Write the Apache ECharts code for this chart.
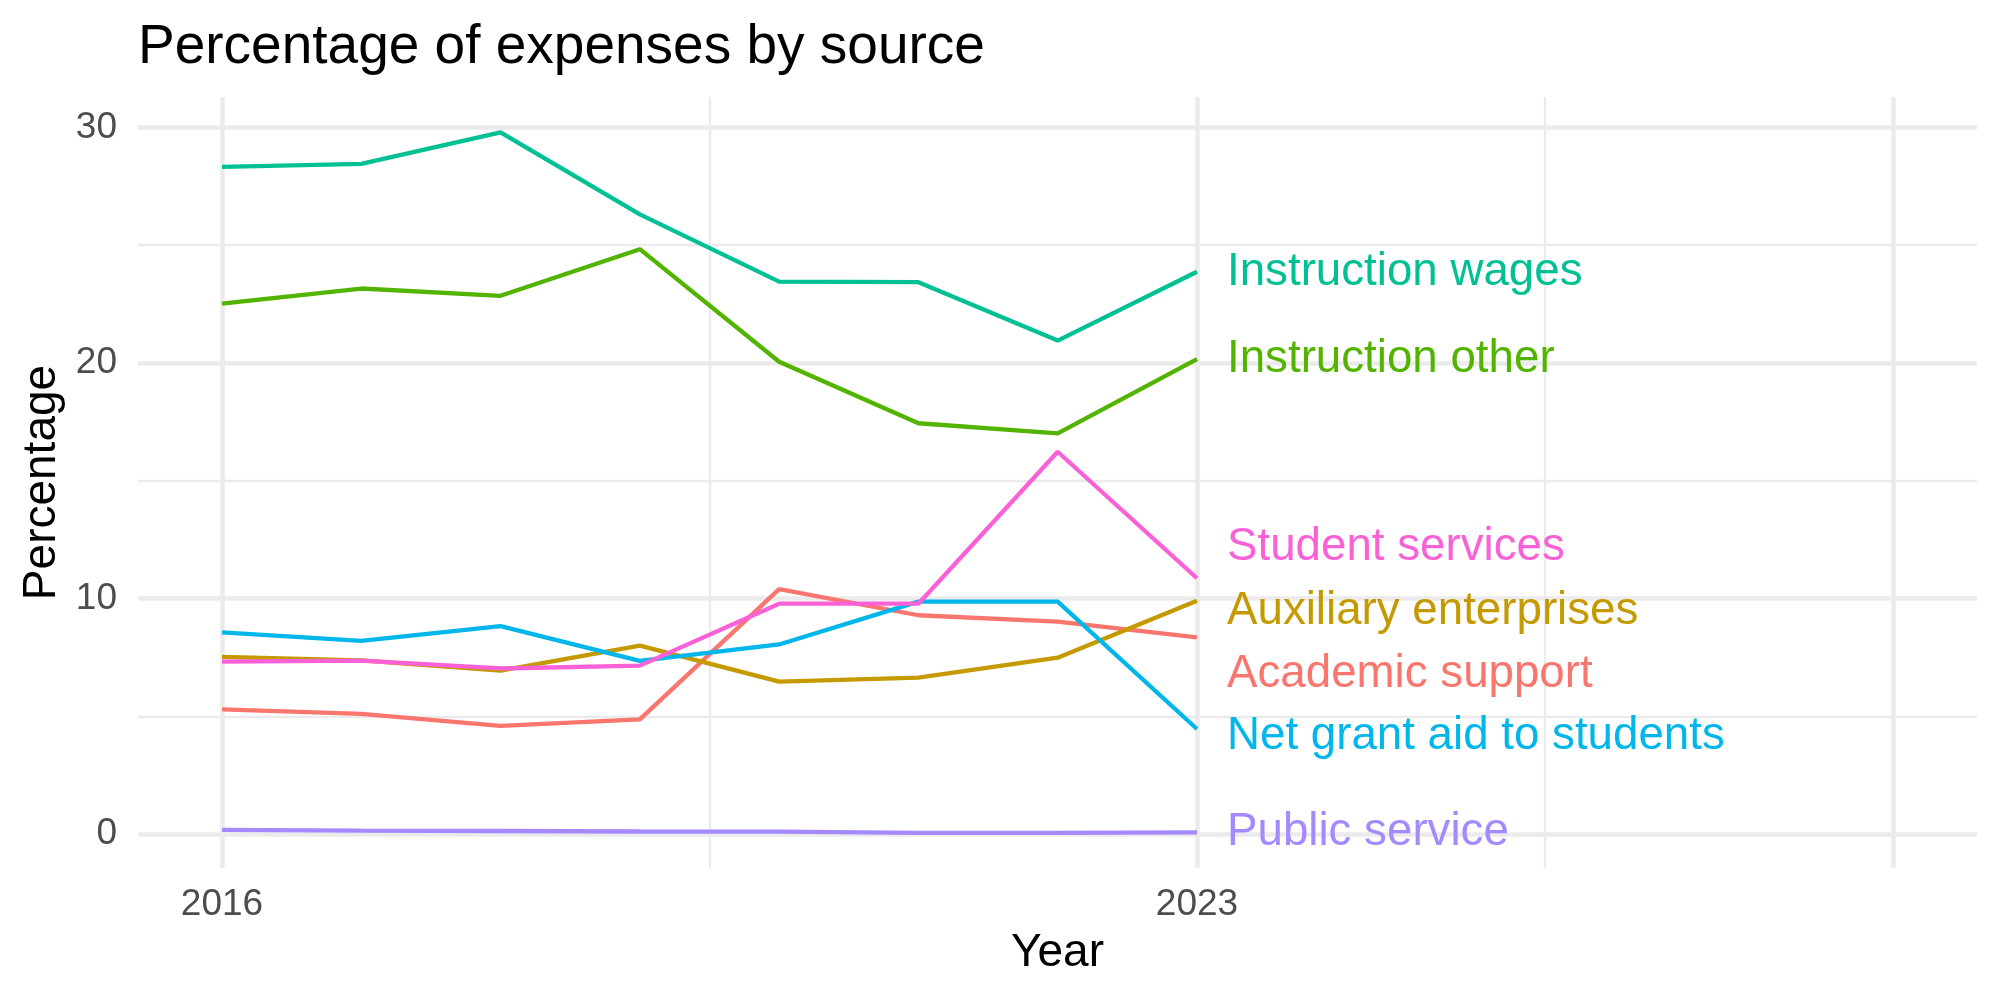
<!DOCTYPE html>
<html>
<head>
<meta charset="utf-8">
<title>Percentage of expenses by source</title>
<script src="https://cdn.jsdelivr.net/npm/echarts@6/dist/echarts.min.js"></script>
<style>
  html, body { margin: 0; padding: 0; background: #fff; }
  #chart { width: 2000px; height: 1000px; }
</style>
</head>
<body>
<div id="chart"></div>
<script>
// data
const years = [2016, 2017, 2018, 2019, 2020, 2021, 2022, 2023];

const academicSupport = [5.29, 5.10, 4.59, 4.87, 10.40, 9.29, 9.02, 8.35];
const auxiliaryEnterprises = [7.52, 7.37, 6.94, 8.00, 6.47, 6.64, 7.49, 9.91];
const instructionOther = [22.52, 23.16, 22.85, 24.83, 20.05, 17.44, 17.01, 20.16];
const instructionWages = [28.32, 28.45, 29.79, 26.31, 23.45, 23.43, 20.95, 23.87];
const netGrantAid = [8.56, 8.20, 8.83, 7.35, 8.05, 9.87, 9.87, 4.46];
const publicService = [0.18, 0.15, 0.13, 0.11, 0.10, 0.05, 0.05, 0.07];
const studentServices = [7.32, 7.36, 7.03, 7.15, 9.78, 9.78, 16.23, 10.86];

const sourceNames = [
  'Academic support', 'Auxiliary enterprises', 'Instruction other',
  'Instruction wages', 'Net grant aid to students', 'Public service', 'Student services'
];
const sourceValues = [
  academicSupport, auxiliaryEnterprises, instructionOther,
  instructionWages, netGrantAid, publicService, studentServices
];
// repelled label heights (in percentage units) at the last year
const labelY = [6.79, 9.45, 20.17, 23.85, 4.15, 0.07, 12.18];

const yTicks = [0, 10, 20, 30];
const yMinorTicks = [5, 15, 25];
const xTicks = [2016, 2023, 2028];
const xTickLabels = [2016, 2023];
const xMinorTicks = [2019.5, 2025.5];

const palette = ['#F8766D', '#C49A00', '#53B400', '#00C094', '#00B6EB', '#A58AFF', '#FB61D7'];

const font = '"Liberation Sans", Arial, Helvetica, sans-serif';
const gridColor = '#EBEBEB';
const xMin = 2015.397, xMax = 2028.6;
const yMin = -1.44, yMax = 31.29;

const chart = echarts.init(document.getElementById('chart'), null, { renderer: 'canvas' });

const lineSeries = sourceNames.map((name, i) => ({
  name: name,
  type: 'line',
  xAxisIndex: 0,
  yAxisIndex: 0,
  data: years.map((y, j) => [y, sourceValues[i][j]]),
  showSymbol: false,
  symbol: 'none',
  silent: true,
  lineStyle: { color: palette[i], width: 4.3 },
  itemStyle: { color: palette[i] },
  z: 3 + i * 0.01
}));

const labelSeries = {
  type: 'scatter',
  xAxisIndex: 0,
  yAxisIndex: 0,
  symbolSize: 0,
  silent: true,
  z: 5,
  itemStyle: { opacity: 1 },
  data: sourceNames.map((name, i) => ({
    name: name,
    value: [years[years.length - 1], labelY[i]],
    label: { color: palette[i] }
  })),
  label: {
    show: true,
    position: 'right',
    distance: 30,
    padding: [7, 0, 0, 0],
    opacity: 1,
    formatter: p => p.name,
    fontFamily: font,
    fontSize: 45.7,
    verticalAlign: 'middle'
  },
  labelLayout: { hideOverlap: false }
};

const option = {
  backgroundColor: '#ffffff',
  animation: false,
  title: {
    text: 'Percentage of expenses by source',
    left: 138,
    top: 20,
    padding: 0,
    textStyle: { fontFamily: font, fontSize: 55, fontWeight: 'normal', color: '#000' }
  },
  grid: { left: 138, right: 23, top: 97, bottom: 132, containLabel: false },
  xAxis: [
    {
      type: 'value',
      min: xMin,
      max: xMax,
      name: 'Year',
      nameLocation: 'middle',
      nameGap: 62,
      nameTextStyle: { fontFamily: font, fontSize: 46, color: '#000' },
      axisLine: { show: false },
      axisTick: { show: false, customValues: xTicks },
      axisLabel: {
        customValues: xTickLabels,
        formatter: v => String(v),
        fontFamily: font, fontSize: 37, color: '#4D4D4D', margin: 18
      },
      splitLine: { show: true, lineStyle: { color: gridColor, width: 4.5 } }
    },
    {
      type: 'value',
      min: xMin,
      max: xMax,
      gridIndex: 0,
      position: 'bottom',
      axisLine: { show: false },
      axisTick: { show: false, customValues: xMinorTicks },
      axisLabel: { show: false, customValues: xMinorTicks },
      splitLine: { show: true, lineStyle: { color: gridColor, width: 2.3 } }
    }
  ],
  yAxis: [
    {
      type: 'value',
      min: yMin,
      max: yMax,
      name: 'Percentage',
      nameLocation: 'middle',
      nameGap: 71,
      nameRotate: 90,
      nameTextStyle: { fontFamily: font, fontSize: 46, color: '#000' },
      axisLine: { show: false },
      axisTick: { show: false, customValues: yTicks },
      axisLabel: {
        customValues: yTicks,
        formatter: v => String(v),
        fontFamily: font, fontSize: 37, color: '#4D4D4D', margin: 21,
        lineHeight: 37,
        padding: [6, 0, 0, 0]
      },
      splitLine: { show: true, lineStyle: { color: gridColor, width: 4.5 } }
    },
    {
      type: 'value',
      min: yMin,
      max: yMax,
      position: 'left',
      axisLine: { show: false },
      axisTick: { show: false, customValues: yMinorTicks },
      axisLabel: { show: false, customValues: yMinorTicks },
      splitLine: { show: true, lineStyle: { color: gridColor, width: 2.3 } }
    }
  ],
  series: lineSeries.concat([labelSeries])
};

chart.setOption(option);
</script>
</body>
</html>
